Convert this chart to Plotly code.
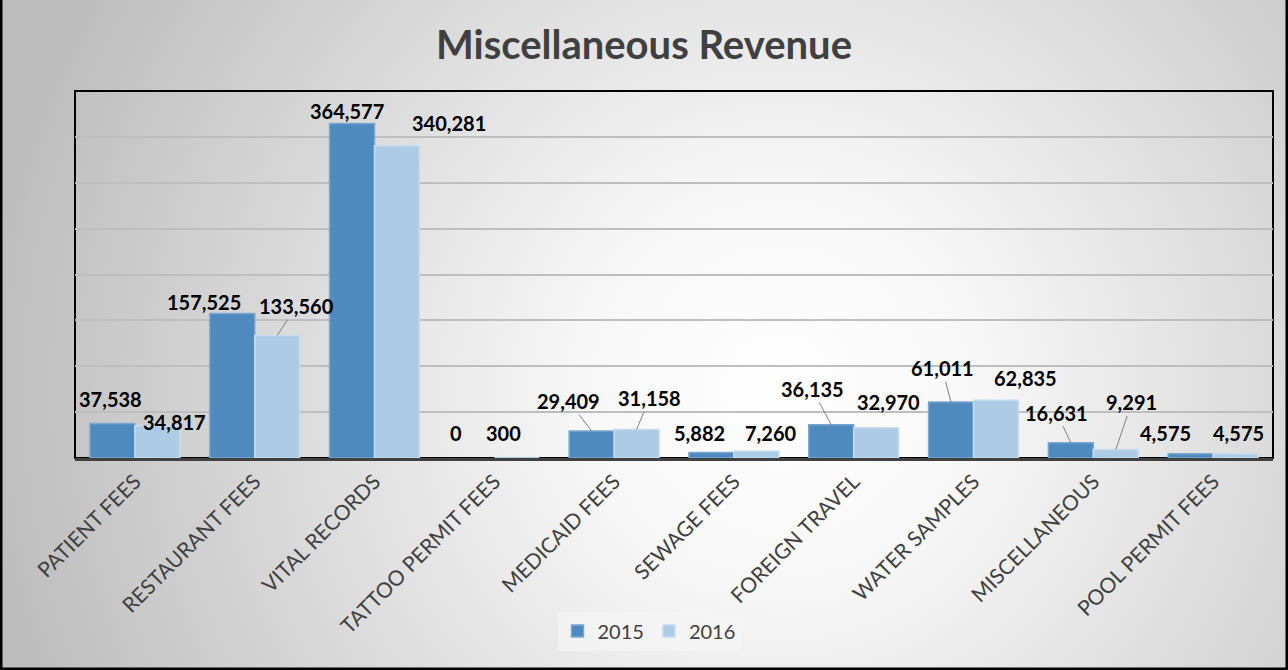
import base64
import plotly.graph_objects as go

categories = ["PATIENT FEES", "RESTAURANT FEES", "VITAL RECORDS", "TATTOO PERMIT FEES",
              "MEDICAID FEES", "SEWAGE FEES", "FOREIGN TRAVEL", "WATER SAMPLES",
              "MISCELLANEOUS", "POOL PERMIT FEES"]
values_2015 = [37538, 157525, 364577, 0, 29409, 5882, 36135, 61011, 16631, 4575]
values_2016 = [34817, 133560, 340281, 300, 31158, 7260, 32970, 62835, 9291, 4575]
series_names = ["2015", "2016"]

# label offsets (pixels, relative to bar top centre) and whether a leader line is drawn
label_offsets_2015 = [(-2, -25, False), (-28, -11, False), (-5, -13, False), (-16, -25, False),
                      (-23, -30, True), (-12, -20, False), (-19, -36, True), (-9, -34, True),
                      (-14, -30, True), (-25, -21, False)]
label_offsets_2016 = [(17, -4, False), (19, -29, True), (52, -23, False), (-13, -25, False),
                      (13, -31, True), (14, -18, False), (12, -26, False), (29, -22, False),
                      (16, -47, True), (3, -21, False)]

W, H = 1288, 670
L, R, T, B = 75, 15, 91, 212
PW, PH = W - L - R, H - T - B
BAR_SHIFT = 22.5

c2015, c2016 = "#4E8ABE", "#ADCBE5"
FONT = "Lato"


def edge_widths(vals):
    return [0 if v < 1000 else 1.5 for v in vals]


fig = go.Figure()
fig.add_trace(go.Bar(x=categories, y=values_2015, name=series_names[0],
                     marker=dict(color=c2015, line=dict(color="#79A6D0",
                                                        width=edge_widths(values_2015)))))
fig.add_trace(go.Bar(x=categories, y=values_2016, name=series_names[1],
                     marker=dict(color=c2016, line=dict(color="#C8DCEE",
                                                        width=edge_widths(values_2016)))))

annotations = []
for vals, offs, sign in ((values_2015, label_offsets_2015, -1), (values_2016, label_offsets_2016, 1)):
    for cat, v, (dx, dy, leader) in zip(categories, vals, offs):
        common = dict(x=cat, y=v, xref="x", yref="y", text=f"<b>{v:,}</b>",
                      font=dict(family=FONT, size=20, color="#000000"))
        if leader:
            annotations.append(dict(common, showarrow=True, arrowhead=0, arrowwidth=1,
                                    arrowcolor="#7F7F7F", axref="pixel", ayref="pixel",
                                    ax=dx, ay=dy, xshift=sign * BAR_SHIFT, standoff=0))
        else:
            annotations.append(dict(common, showarrow=False, xshift=sign * BAR_SHIFT + dx,
                                    yshift=-dy))

svg = f'''<svg xmlns="http://www.w3.org/2000/svg" width="{W}" height="{H}" viewBox="0 0 {W} {H}">
<defs><radialGradient id="g" gradientUnits="userSpaceOnUse" cx="780" cy="390" r="800">
<stop offset="0" stop-color="#ffffff"/><stop offset="0.25" stop-color="#f7f7f7"/>
<stop offset="1" stop-color="#bdbdbd"/></radialGradient></defs>
<rect width="{W}" height="{H}" fill="url(#g)"/></svg>'''
src = "data:image/svg+xml;base64," + base64.b64encode(svg.encode()).decode()

px = lambda p: p / PW
py = lambda p: p / PH

shapes = [
    dict(type="rect", xref="paper", yref="paper", x0=0, x1=1, y0=0, y1=1,
         line=dict(color="#000000", width=2), layer="below"),
    dict(type="line", xref="paper", yref="paper", x0=px(-L + 1), x1=px(-L + 1),
         y0=py(-B), y1=1 + py(T), line=dict(color="#000000", width=3)),
    dict(type="line", xref="paper", yref="paper", x0=1 + px(R - 1), x1=1 + px(R - 1),
         y0=py(-B), y1=1 + py(T), line=dict(color="#000000", width=3)),
    dict(type="line", xref="paper", yref="paper", x0=px(-L), x1=1 + px(R),
         y0=py(-B + 1), y1=py(-B + 1), line=dict(color="#000000", width=3)),
]

fig.update_layout(
    width=W, height=H,
    margin=dict(l=L, r=R, t=T, b=B, autoexpand=False),
    paper_bgcolor="rgba(0,0,0,0)", plot_bgcolor="rgba(0,0,0,0)",
    images=[dict(source=src, xref="paper", yref="paper", x=px(-L), y=1 + py(T),
                 sizex=W / PW, sizey=H / PH, sizing="stretch", layer="below",
                 xanchor="left", yanchor="top")],
    title=dict(text="<b>Miscellaneous Revenue</b>", x=0.5, xanchor="center",
               y=1 - 45 / H, yanchor="middle",
               font=dict(family=FONT, size=40, color="#404040")),
    barmode="group", bargap=0.25, bargroupgap=0,
    xaxis=dict(tickangle=-45, tickfont=dict(family=FONT, size=21, color="#404040"),
               showline=True, linecolor="#404040", linewidth=3, ticks="",
               showgrid=False),
    yaxis=dict(range=[0, 400000], dtick=50000, showticklabels=False, ticks="",
               showgrid=True, gridcolor="#BEBEBE", gridwidth=2, zeroline=False,
               showline=False),
    legend=dict(orientation="h", x=574 / PW, xanchor="center", y=-173 / PH, yanchor="middle",
                bgcolor="rgba(245,245,245,0.7)", font=dict(family=FONT, size=20, color="#404040"),
                itemwidth=30, traceorder="normal"),
    annotations=annotations,
    shapes=shapes,
    showlegend=True,
)

fig.write_html("out.html", config={"displayModeBar": False},
               post_script="document.body.style.margin='0';document.body.style.overflow='hidden';")
